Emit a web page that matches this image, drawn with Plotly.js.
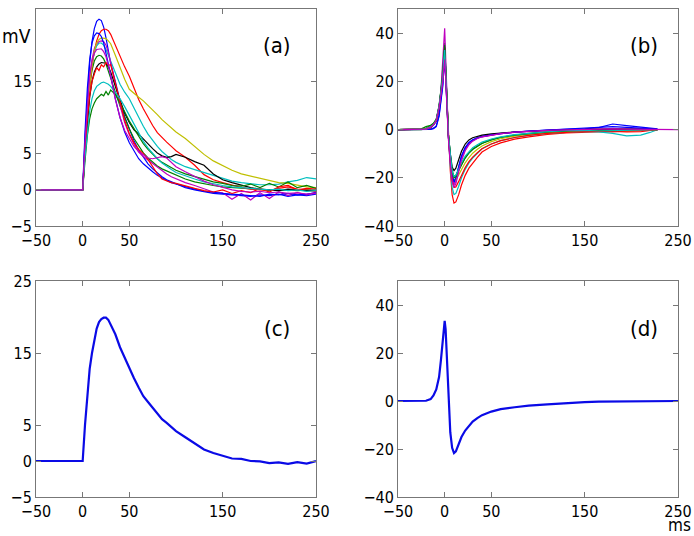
<!DOCTYPE html>
<html>
<head>
<meta charset="utf-8">
<script src="https://cdn.plot.ly/plotly-3.0.1.min.js"></script>
<style>html,body{margin:0;padding:0;background:#fff;}#chart{width:694px;height:536px;}</style>
</head>
<body>
<div id="chart"></div>
<script>
// ---------- data ----------
const xTickVals = [-50, 0, 50, 150, 250];
const yTickValsAC = [-5, 0, 5, 15, 25];
const yTickValsBD = [-40, -20, 0, 20, 40];
const panelLabels = ["(a)", "(b)", "(c)", "(d)"];

// time (ms) for panels (a) and (c)
const tA = [-50,0,2.5,5,7.5,10,12.5,15,17.5,20,22.5,25,27.5,30,35,40,45,50,55,60,65,70,75,80,85,90,95,100,110,120,130,140,150,160,170,180,190,200,210,220,230,240,250];

// panel (a): individual recordings (mV)
const aB1 = [0,0,7,13,17.5,20.5,22.3,23.3,23.6,23.4,22.5,21,19.3,17.5, 15,12.3,10.1,8.3,6.8,5.5,4.5,3.6,2.9,2.3,1.8,1.4,1.1,0.8, 0.3,0.0,-0.3,-0.5,-0.6,-0.7,-0.8,-0.9,-0.7,-0.8,-0.6,-0.9,-0.7,-0.8,-0.6];
const aG1 = [0,0,6,11,14.5,16.5,17.8,18.4,18.6,18.5,18.1,17.4,16.5,15.5, 13.5,11.6,9.9,8.4,7.1,6.0,5.1,4.4,3.8,3.3,2.9,2.6,2.3,2.0, 1.5,1.1,0.8,0.6,0.4,0.3,0.2,0.1,0.1,0.0,-0.1,0.0,-0.1,0.0,-0.1];
const aR1 = [0,0,5,10,14,17,19.2,20.6,21.5,22.0,22.2,22.2,22.0,21.5, 20.0,18.4,17.0,15.7,14.0,12.5,11.2,10.0,8.9,7.9,7.2,6.6,6.0,5.4, 4.5,3.4,2.1,1.4,1.0,0.6,0.3,0.1,0.0,-0.1,0.2,0.4,0.1,0.0,-0.2];
const aC1 = [0,0,6,11,15,17.5,19,19.9,20.3,20.3,20.0,19.4,18.6,17.8, 16.0,14.6,13.5,12.6,11.3,10.0,8.8,7.7,6.8,6.0,5.3,4.7,4.2,3.8, 3.2,2.8,2.4,2.0,1.5,1.2,1.0,0.8,0.7,0.7,0.8,1.1,1.3,1.7,1.5];
const aM1 = [0,0,6,11.5,15.5,18,19.5,20.2,20.5,20.6,20.5,20.0,19.0,17.6, 14.5,11.7,9.3,7.6,6.3,5.2,4.6,4.1,3.7,3.2,2.7,2.2,1.8,1.5, 1.0,0.6,0.2,-0.3,-0.4,-1.3,-0.5,-1.4,-0.4,-1.2,-0.3,-0.8,-0.4,-0.7,-0.3];
const aY1 = [0,0,5.5,10.5,14.5,17.3,19.2,20.3,20.8,21.0,21.0,20.9,20.6,20.2, 18.6,16.9,15.3,13.9,13.3,12.8,12.3,11.7,11.0,10.4,9.7,9.1,8.5,8.0, 7.1,6.0,4.9,4.0,3.3,2.7,2.2,1.9,1.5,1.2,1.0,0.9,0.6,0.4,0.3];
const aK1 = [0,0,5,9.5,12.8,15,16.3,17.0,17.4,17.6,17.6,17.5,17.0,16.3, 14.3,12.3,10.6,9.3,8.3,7.7,7.0,6.3,5.7,5.1,4.7,4.5,4.6,4.9, 4.5,3.9,3.4,2.2,1.4,1.0,0.6,0.3,0.1,0.0,-0.1,0.1,0.0,-0.1,0.0];
const aB2 = [0,0,8,14,18,20.3,21.3,21.7,21.6,21.2,20.3,19.0,17.4,15.8, 12.6,10.0,8.0,6.5,5.3,4.3,3.6,3.0,2.5,2.0,1.6,1.3,1.0,0.8, 0.4,0.1,-0.2,-0.4,-0.5,-0.6,-0.7,-0.8,-0.9,-0.6,-0.7,-0.5,-0.7,-0.6,-0.4];
const aG2 = [0,0,4,7.5,9.8,11.2,12.0,12.6,12.9,13.2,13.0,13.6,13.1,13.8, 13.2,12.1,10.8,9.5,8.4,7.3,6.4,5.6,4.9,4.3,3.8,3.4,3.0,2.7, 2.2,1.8,1.4,1.1,0.9,0.6,0.5,0.8,0.3,0.9,0.4,1.1,0.3,0.6,0.2];
const aR2 = [0,0,5,9.8,13,15,16.0,16.9,16.5,17.3,17.0,17.6,17.2,17.3, 14.8,12.0,9.6,7.8,6.5,5.6,5.0,4.2,3.2,2.2,1.5,1.2,1.0,0.9, 0.5,0.2,-0.1,-0.3,0.0,-0.5,-0.1,-0.4,0.2,-0.3,0.4,0.6,0.0,0.2,0.1];
const aC2 = [0,0,4.5,8.3,10.9,12.6,13.7,14.3,14.6,14.8,14.9,14.8,14.6,14.3, 13.5,12.6,11.5,10.3,9.0,7.8,6.7,5.8,5.0,4.3,3.7,3.2,2.8,2.4, 1.9,1.5,1.1,0.8,0.6,0.4,0.3,0.2,0.1,0.0,0.1,-0.1,0.0,-0.2,-0.1];
const aM2 = [0,0,6.5,12,15.8,17.8,18.9,19.4,19.5,19.5,19.1,18.4,17.2,15.8, 12.5,10.0,8.2,7.0,6.0,5.3,4.8,4.4,4.3,4.5,4.6,4.4,3.8,3.2, 2.5,1.8,1.2,0.7,0.3,0.0,-0.2,-0.3,-0.2,-0.4,-0.3,-0.5,-0.4,-0.6,-0.5];

// panel (c): average (mV)
const cMean = [0,0,5,9.5,12.8,15.0,16.9,18.4,19.3,19.7,19.9,19.9,19.6,19.0, 17.6,15.8,14.3,12.9,11.5,10.2,9.0,8.2,7.4,6.5,5.8,5.3,4.7,4.15, 3.3,2.4,1.6,1.1,0.7,0.35,0.3,0.0,-0.05,-0.3,-0.2,-0.4,-0.15,-0.35,0.0];

// time (ms) for panels (b) and (d)
const tB = [-50,-25,-20,-15,-12,-9,-6,-4,-2,-1,0,1,2,3,4,6,8,10,12,15,18,22,26,30,35,40,50,60,75,90,110,130,150,165,180,195,210,220,228,250];

// panel (b): individual recordings
const bB1 = [0,0,0,0.2,0.6,1.5,6,12,19,26,30,23,12,3,-3,-12,-19.5,-22,-20.5,-15.5,-11,-7.5,-5.3,-4.2,-3.3,-2.8,-2.1,-1.6,-1.1,-0.6,-0.2,0.1,0.3,0.8,2.3,1.6,0.9,0.6,0.3,null];
const bG1 = [0,0,0.5,1.5,2.4,4.2,9.5,16,24,31,36,27,14,4,-2,-10,-17,-19.5,-19,-16.8,-14.3,-11.6,-9.6,-8.1,-6.8,-5.7,-4.2,-3.2,-2.3,-1.6,-1.0,-0.6,-0.3,-0.4,-0.2,-0.5,-0.3,-0.1,0,null];
const bR1 = [0,0,0.2,0.9,1.9,3.6,9,15,22,28,33,25,13,3,-4,-17,-27,-30.5,-30,-27,-23,-19,-16,-13.8,-11.5,-9.3,-7,-5.5,-4,-3,-2,-1.4,-1.1,-0.9,-0.8,-1.0,-0.9,-0.4,0,null];
const bC1 = [0,0,0.3,1.2,2.2,4,9.5,16,23,30,35,26,13.5,3.5,-3,-15,-24,-27,-26.5,-23.5,-20,-16.5,-13.8,-11.8,-9.8,-8,-6,-4.6,-3.3,-2.4,-1.6,-1.1,-0.8,-1.0,-1.6,-2.6,-2.3,-1.2,-0.1,null];
const bM1 = [0,0,0.2,1.0,2.1,4,9.5,16,27,36,42,31,16,4,-3,-13,-20.5,-23,-21.5,-16.5,-12,-8.3,-6,-4.6,-3.6,-3,-2.2,-1.7,-1.2,-0.8,-0.4,-0.2,0,0.2,0.3,0.1,0.2,0.1,0,null];
const bY1 = [0,0,0.2,1.0,2.0,3.8,9,15,21,27.5,32,24,12.5,3,-2.5,-11,-18.5,-21,-20.8,-18.8,-16.5,-13.8,-11.6,-9.8,-8.2,-6.8,-5,-3.8,-2.7,-1.9,-1.2,-0.8,-0.5,-0.4,-0.3,-0.5,-0.3,-0.2,0,null];
const bK1 = [0,0,0.1,0.8,1.8,3.5,9,15.5,22,29,34,25,13,3,-2,-10,-15.5,-17,-16,-12.5,-9,-6,-4.3,-3.4,-2.8,-2.3,-1.8,-1.4,-1,-0.7,-0.3,0,0.1,0.2,0.3,0.2,0.3,0.2,0,null];
const bB2 = [0,0,0,0.1,0.4,1.2,5.5,11,18,24,28,22,11,2.5,-3,-12,-19,-21.5,-20,-15.5,-11,-7.6,-5.5,-4.3,-3.5,-2.9,-2.2,-1.7,-1.1,-0.6,-0.2,0,0.3,0.6,1.2,0.9,0.5,0.4,0.2,null];
const bG2 = [0,0.3,1.2,1.8,2.6,4.3,10,16.5,23,30,35,26,13.5,3.5,-2,-10.5,-17.5,-20,-19.5,-17,-14.5,-11.8,-9.8,-8.3,-7,-5.8,-4.3,-3.3,-2.3,-1.7,-1.1,-0.7,-0.4,-0.3,-0.5,-0.3,-0.2,0,0,null];
const bR2 = [0,0,0.2,0.9,1.9,3.7,9,15,21,27,31,23.5,12,3,-3,-13,-21,-24,-23.8,-21.5,-18.8,-15.8,-13.3,-11.4,-9.6,-8,-6,-4.6,-3.3,-2.4,-1.6,-1.1,-0.8,-0.7,-0.9,-0.6,-0.5,-0.3,0,null];
const bC2 = [0,0,0.2,1.0,2.0,3.8,9.5,15.5,22,28.5,33,25,13,3.5,-2,-10,-17,-19.5,-19,-16.5,-13.8,-11,-9,-7.5,-6.3,-5.2,-3.9,-3,-2.1,-1.5,-0.9,-0.5,-0.3,-0.6,-0.4,-0.3,-0.2,-0.1,0,null];
const bM2 = [0,0,0.2,1.0,2.0,3.8,9,14.5,20,25,29,22,11,2,-4,-14,-21.5,-24,-22.5,-17.5,-12.8,-8.8,-6.3,-4.8,-3.7,-3,-2.2,-1.7,-1.1,-0.7,-0.3,-0.1,0.1,0.2,0.3,0.2,0.2,0.1,0,0];

// panel (d): average
const dMean = [0,-0.1,0.1,0.8,2.3,4.8,10,17,27,31,33.4,30,21,9,-1,-13,-19.5,-21.7,-21.0,-18.2,-15.0,-12.3,-10.3,-8.6,-7.1,-5.9,-4.4,-3.4,-2.6,-1.9,-1.4,-0.8,-0.5,-0.3,-0.2,-0.1,-0.2,0,-0.1,0];

const lineColors = ["#0000ff","#008000","#ff0000","#00bfbf","#bf00bf","#bfbf00","#000000","#0000ff","#008000","#ff0000","#00bfbf","#bf00bf"];
const seriesA = [aB1,aG1,aR1,aC1,aM1,aY1,aK1,aB2,aG2,aR2,aC2,aM2];
const seriesB = [bB1,bG1,bR1,bC1,bM1,bY1,bK1,bB2,bG2,bR2,bC2,bM2];

// ---------- traces ----------
const traces = [];
seriesA.forEach((s, i) => traces.push({x: tA, y: s, type: 'scatter', mode: 'lines', xaxis: 'x', yaxis: 'y', line: {color: lineColors[i], width: 1.2}, hoverinfo: 'skip'}));
seriesB.forEach((s, i) => traces.push({x: tB, y: s, type: 'scatter', mode: 'lines', xaxis: 'x2', yaxis: 'y2', line: {color: lineColors[i], width: 1.2}, hoverinfo: 'skip'}));
traces.push({x: tA, y: cMean, type: 'scatter', mode: 'lines', xaxis: 'x3', yaxis: 'y3', line: {color: '#0a0ae6', width: 2.2}});
traces.push({x: tB, y: dMean, type: 'scatter', mode: 'lines', xaxis: 'x4', yaxis: 'y4', line: {color: '#0a0ae6', width: 2.2}});

// ---------- layout ----------
const W = 694, H = 536;
const FONT = "DejaVu Sans Condensed, Liberation Sans Narrow, DejaVu Sans, sans-serif";
function xax(d, anchor) {
  return {domain: d, anchor: anchor, range: [-50, 250], tickvals: xTickVals, ticktext: xTickVals.map(v => v < 0 ? '\u2212' + Math.abs(v) : String(v)),
    ticks: 'inside', ticklen: 5, tickcolor: '#777', mirror: 'ticks', showline: true, linecolor: '#777', linewidth: 1,
    showgrid: false, zeroline: false, tickfont: {family: FONT, size: 16, color: '#000'}, fixedrange: true};
}
function yax(d, anchor, range, tv) {
  return {domain: d, anchor: anchor, range: range, tickvals: tv, ticktext: tv.map(v => v < 0 ? '\u2212' + Math.abs(v) : String(v)),
    ticks: 'inside', ticklen: 5, tickcolor: '#777', mirror: 'ticks', showline: true, linecolor: '#777', linewidth: 1,
    showgrid: false, zeroline: false, tickfont: {family: FONT, size: 16, color: '#000'}, fixedrange: true};
}
const dxL = [36 / W, 316 / W], dxR = [398 / W, 678 / W];
const dyT = [1 - 226 / H, 1 - 9 / H], dyB = [1 - 497 / H, 1 - 281 / H];
const labelPos = [[276.7, 45], [644, 45], [276.7, 328], [644, 328]];

const annotations = panelLabels.map((t, i) => ({text: t, xref: 'paper', yref: 'paper', x: labelPos[i][0] / W, y: 1 - labelPos[i][1] / H,
  xanchor: 'center', yanchor: 'middle', showarrow: false, font: {family: FONT, size: 22, color: '#000'}}));
annotations.push({text: 'mV', xref: 'paper', yref: 'paper', x: 16.7 / W, y: 1 - 36 / H, xanchor: 'center', yanchor: 'middle', showarrow: false, font: {family: FONT, size: 19, color: '#000'}});
annotations.push({text: 'ms', xref: 'paper', yref: 'paper', x: 679 / W, y: 0, xanchor: 'center', yanchor: 'bottom', borderpad: 0, showarrow: false, font: {family: FONT, size: 17, color: '#000'}});

const layout = {
  width: W, height: H, margin: {l: 0, r: 0, t: 0, b: 0}, paper_bgcolor: '#fff', plot_bgcolor: '#fff', showlegend: false,
  xaxis: xax(dxL, 'y'), yaxis: yax(dyT, 'x', [-5, 25], yTickValsAC),
  xaxis2: xax(dxR, 'y2'), yaxis2: yax(dyT, 'x2', [-40, 50], yTickValsBD),
  xaxis3: xax(dxL, 'y3'), yaxis3: yax(dyB, 'x3', [-5, 25], yTickValsAC),
  xaxis4: xax(dxR, 'y4'), yaxis4: yax(dyB, 'x4', [-40, 50], yTickValsBD),
  annotations: annotations
};
Plotly.newPlot('chart', traces, layout, {staticPlot: true, displayModeBar: false});
</script>
</body>
</html>
